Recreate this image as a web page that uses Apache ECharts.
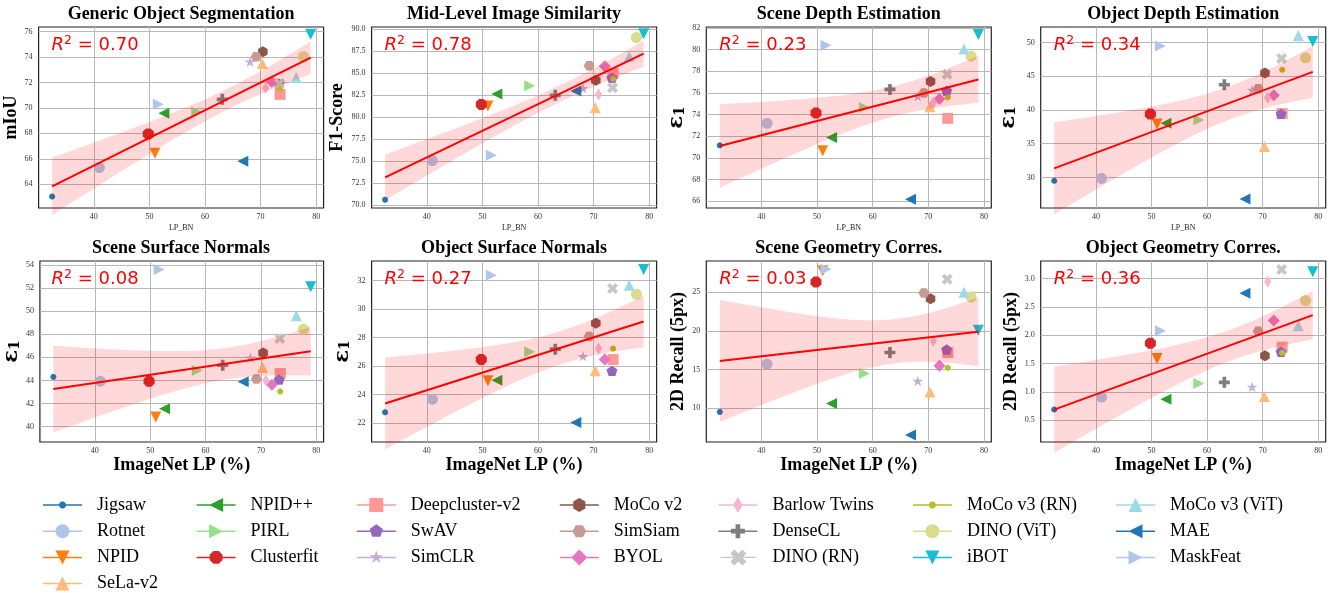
<!DOCTYPE html>
<html>
<head>
<meta charset="utf-8">
<script src="https://cdn.jsdelivr.net/npm/echarts@6/dist/echarts.min.js"></script>
<style>
  html, body { margin: 0; padding: 0; background: #fff; }
  #chart { width: 1338px; height: 593px; }
</style>
</head>
<body>
<div id="chart"></div>
<script>
// ---- data ----
var methods = ['Jigsaw', 'Rotnet', 'NPID', 'SeLa-v2', 'NPID++', 'PIRL', 'Clusterfit',
  'Deepcluster-v2', 'SwAV', 'SimCLR', 'MoCo v2', 'SimSiam', 'BYOL', 'Barlow Twins',
  'DenseCL', 'DINO (RN)', 'MoCo v3 (RN)', 'DINO (ViT)', 'iBOT', 'MoCo v3 (ViT)', 'MAE', 'MaskFeat'];
var imagenetLP = [32.5, 41.0, 51.0, 70.3, 52.6, 58.5, 49.8, 73.5, 73.3, 68.1, 70.4, 69.2, 72.0, 70.9,
  63.1, 73.4, 73.5, 77.7, 79.0, 76.4, 66.8, 51.6];

var segMIoU      = [63.03, 65.31, 66.44, 73.5, 69.58, 69.7, 67.96, 71.07, 71.9, 73.64, 74.43, 74.03, 72.07, 71.55, 70.68, 71.93, 71.49, 74.03, 75.8, 72.4, 65.8, 70.3];
var simF1        = [70.64, 75.09, 81.28, 81.1, 82.64, 83.58, 81.47, 84.98, 84.5, 83.3, 84.2, 85.85, 85.8, 82.6, 82.5, 83.36, 84.4, 89.06, 89.5, 86.9, 83.0, 75.7];
var sceneDepth   = [71.17, 73.2, 70.68, 74.73, 71.9, 74.67, 74.15, 73.66, 76.2, 75.7, 77.06, 76.0, 75.44, 75.1, 76.33, 77.74, 75.6, 79.4, 81.4, 80.07, 66.2, 80.4];
var objDepth     = [29.5, 29.85, 37.93, 34.58, 38.03, 38.5, 39.4, 39.46, 39.45, 42.96, 45.47, 43.15, 42.2, 41.8, 43.74, 47.64, 45.96, 47.73, 50.15, 51.03, 26.8, 49.5];
var sceneNormals = [44.31, 43.93, 40.84, 45.12, 41.56, 44.86, 43.93, 44.6, 44.08, 45.96, 46.39, 44.13, 43.64, 44.0, 45.32, 47.64, 43.04, 48.45, 52.12, 49.6, 43.88, 53.62];
var objNormals   = [22.77, 23.68, 24.97, 25.67, 25.01, 27.0, 26.46, 26.46, 25.67, 26.7, 29.0, 28.07, 26.46, 27.24, 27.19, 31.44, 27.23, 31.04, 32.77, 31.67, 22.05, 32.37];
var sceneCorr    = [9.52, 15.7, 27.8, 12.1, 10.6, 14.5, 26.34, 17.2, 17.6, 13.54, 24.18, 24.91, 15.5, 18.73, 17.22, 26.69, 15.23, 24.4, 20.1, 25.0, 6.54, 27.98];
var objCorr      = [0.69, 0.91, 1.59, 0.92, 0.87, 1.15, 1.86, 1.79, 1.71, 1.09, 1.64, 2.07, 2.26, 2.95, 1.17, 3.16, 1.69, 2.61, 3.12, 2.17, 2.74, 2.08];

var taskTitles = ['Generic Object Segmentation', 'Mid-Level Image Similarity', 'Scene Depth Estimation',
  'Object Depth Estimation', 'Scene Surface Normals', 'Object Surface Normals',
  'Scene Geometry Corres.', 'Object Geometry Corres.'];
var taskValues = [segMIoU, simF1, sceneDepth, objDepth, sceneNormals, objNormals, sceneCorr, objCorr];
var r2Labels = ['0.70', '0.78', '0.23', '0.34', '0.08', '0.27', '0.03', '0.36'];
var yNames = ['mIoU', 'F1-Score', 'eps', 'eps', 'eps', 'eps', '2D Recall (5px)', '2D Recall (5px)'];
var xTicks = [40, 50, 60, 70, 80];
var yTicks = [
  [64, 66, 68, 70, 72, 74, 76],
  [70, 72.5, 75, 77.5, 80, 82.5, 85, 87.5, 90],
  [66, 68, 70, 72, 74, 76, 78, 80, 82],
  [30, 35, 40, 45, 50],
  [40, 42, 44, 46, 48, 50, 52, 54],
  [22, 24, 26, 28, 30, 32],
  [10, 15, 20, 25],
  [0.5, 1.0, 1.5, 2.0, 2.5, 3.0]
];
var yDecimals = [0, 1, 0, 0, 0, 0, 0, 1];

// ---- styles / layout ----
var colors = ['#1f77b4', '#aec7e8', '#ff7f0e', '#ffbb78', '#2ca02c', '#98df8a', '#d62728', '#ff9896',
  '#9467bd', '#c5b0d5', '#8c564b', '#c49c94', '#e377c2', '#f7b6d2', '#7f7f7f', '#c7c7c7',
  '#bcbd22', '#dbdb8d', '#17becf', '#9edae5', '#1f77b4', '#aec7e8'];
var markers = ['.', 'o', 'v', '^', '<', '>', '8', 's', 'p', '*', 'h', 'H', 'D', 'd', 'P', 'X', '.', 'o', 'v', '^', '<', '>'];
var yRange = [[62.13, 76.37], [69.7, 90.26], [65.39, 82.09], [25.47, 52.3],
  [38.67, 54.35], [20.69, 33.36], [5.63, 29.06], [0.118, 3.31]];
var xRange = [30.07, 81.33];
var colLeft = [38.6, 371.6, 706.3, 1040.7];
var rowTop = [27, 261];
var gridW = 285, gridH = 181;
var yNameGap = [16, 25, 19, 22, 17, 19, 19, 20];
var serif = 'Liberation Serif';

function markerSize(m, legend) {
  if (m === '.') return legend ? 3.5 : 6;
  if (m === 'D' || m === 'd') return legend ? 8 : 12;
  return legend ? 7 : 11;
}

function unitShape(kind) {
  var p = [], k, a;
  function ring(n, start, rad) {
    for (var i = 0; i < n; i++) {
      a = (start + i * 360 / n) * Math.PI / 180;
      p.push([rad * Math.cos(a), rad * Math.sin(a)]);
    }
  }
  var t = 1 / 3;
  var plus = [[-t, -1], [t, -1], [t, -t], [1, -t], [1, t], [t, t], [t, 1], [-t, 1], [-t, t], [-1, t], [-1, -t], [-t, -t]];
  switch (kind) {
    case 'o': case '.': ring(32, 0, 1); break;
    case 'v': p = [[0, 1], [-1, -1], [1, -1]]; break;
    case '^': p = [[0, -1], [1, 1], [-1, 1]]; break;
    case '<': p = [[-1, 0], [1, -1], [1, 1]]; break;
    case '>': p = [[1, 0], [-1, 1], [-1, -1]]; break;
    case '8': ring(8, 22.5, 1); break;
    case 's': p = [[-1, -1], [1, -1], [1, 1], [-1, 1]]; break;
    case 'p': ring(5, -90, 1); break;
    case '*':
      for (k = 0; k < 10; k++) {
        a = (-90 + k * 36) * Math.PI / 180;
        var rr = k % 2 ? 0.382 : 1;
        p.push([rr * Math.cos(a), rr * Math.sin(a)]);
      }
      break;
    case 'h': ring(6, -90, 1); break;
    case 'H': ring(6, 0, 1); break;
    case 'D': p = [[0, -1], [1, 0], [0, 1], [-1, 0]]; break;
    case 'd': p = [[0, -1], [0.6, 0], [0, 1], [-0.6, 0]]; break;
    case 'P': p = plus; break;
    case 'X': p = plus.map(function (q) { return [(q[0] - q[1]) / 1.06, (q[0] + q[1]) / 1.06]; }); break;
  }
  var area = 0;
  for (k = 0; k < p.length; k++) {
    var n = p[(k + 1) % p.length];
    area += p[k][0] * n[1] - n[0] * p[k][1];
  }
  if (area < 0) p.reverse();
  return p;
}

function polyPath(pts, cx, cy, r) {
  return pts.map(function (q, i) {
    return (i ? 'L' : 'M') + (cx + q[0] * r).toFixed(2) + ' ' + (cy + q[1] * r).toFixed(2);
  }).join(' ') + ' Z';
}

var symbolPaths = markers.map(function (m) { return 'path://' + polyPath(unitShape(m), 10, 10, 10); });
// legend icon: line with the marker in its middle, blank room on the right before the text
var legendIcons = markers.map(function (m) {
  return 'path://M0 0 L0 0 M49 16 L49 16 M0 7.25 L39 7.25 L39 8.75 L0 8.75 Z ' +
    polyPath(unitShape(m), 19.5, 8, markerSize(m, true));
});

// least squares fit with 95% band
function fit(xs, ys) {
  var n = xs.length, mx = 0, my = 0, sxx = 0, sxy = 0, sse = 0, i;
  for (i = 0; i < n; i++) { mx += xs[i] / n; my += ys[i] / n; }
  for (i = 0; i < n; i++) { sxx += (xs[i] - mx) * (xs[i] - mx); sxy += (xs[i] - mx) * (ys[i] - my); }
  var b = sxy / sxx, a = my - b * mx;
  for (i = 0; i < n; i++) { var e = ys[i] - a - b * xs[i]; sse += e * e; }
  var s = Math.sqrt(sse / (n - 2)), tq = 2.086;
  var x0 = Math.min.apply(null, xs), x1 = Math.max.apply(null, xs);
  var band = [];
  for (i = 0; i <= 60; i++) {
    var x = x0 + (x1 - x0) * i / 60;
    var h = tq * s * Math.sqrt(1 / n + (x - mx) * (x - mx) / sxx);
    band.push([x, a + b * x - h, a + b * x + h]);
  }
  return { line: [[x0, a + b * x0], [x1, a + b * x1]], band: band };
}

var grids = [], xAxes = [], yAxes = [], series = [], titles = [];
var red = '#ff0000';

taskValues.forEach(function (vals, k) {
  var row = Math.floor(k / 4), col = k % 4;
  var left = colLeft[col], top = rowTop[row];
  grids.push({ left: left, top: top, width: gridW, height: gridH, show: true,
    borderColor: '#222', borderWidth: 1.2 });

  xAxes.push({
    type: 'value', gridIndex: k, min: xRange[0], max: xRange[1],
    axisLine: { show: false },
    axisTick: { show: false, customValues: xTicks },
    axisLabel: { customValues: xTicks, fontFamily: serif, fontSize: 8, color: '#333', margin: 5 },
    splitLine: { show: true, lineStyle: { color: '#b8b8b8', width: 1 } },
    name: row === 0 ? 'LP_BN' : 'ImageNet LP (%)',
    nameLocation: 'middle',
    nameGap: row === 0 ? 16 : 13,
    nameTextStyle: row === 0
      ? { fontFamily: serif, fontSize: 8, color: '#222' }
      : { fontFamily: serif, fontSize: 18, fontWeight: 'bold', color: '#000' }
  });

  var dec = yDecimals[k];
  var isEps = yNames[k] === 'eps';
  yAxes.push({
    type: 'value', gridIndex: k, min: yRange[k][0], max: yRange[k][1],
    axisLine: { show: false },
    axisTick: { show: false, customValues: yTicks[k] },
    axisLabel: { customValues: yTicks[k], fontFamily: serif, fontSize: 8, color: '#333', margin: 6,
      formatter: function (v) { return v.toFixed(dec); } },
    splitLine: { show: true, lineStyle: { color: '#b8b8b8', width: 1 } },
    name: isEps ? '{e|\u03b5}{s|1}' : yNames[k],
    nameLocation: 'middle',
    nameRotate: 90,
    nameGap: yNameGap[k],
    nameTextStyle: {
      fontFamily: serif, fontSize: 18, fontWeight: 'bold', color: '#000',
      rich: {
        e: { fontFamily: 'DejaVu Serif', fontSize: 21, fontWeight: 'bold', color: '#000' },
        s: { fontFamily: 'DejaVu Serif', fontSize: 14, fontWeight: 'bold', color: '#000', verticalAlign: 'bottom' }
      }
    }
  });

  titles.push({
    text: taskTitles[k], left: left + gridW / 2, top: top - 22, textAlign: 'center', padding: 0,
    textStyle: { fontFamily: serif, fontSize: 18, fontWeight: 'bold', color: '#000' }
  });
  titles.push({
    text: '{i|R}{s|2}{n| = ' + r2Labels[k] + '}', left: left + 13, top: top + 7, padding: 0,
    textStyle: {
      fontWeight: 'normal',
      rich: {
        i: { fontFamily: 'DejaVu Sans', fontStyle: 'italic', fontWeight: 'normal', fontSize: 18, color: red, lineHeight: 23 },
        s: { fontFamily: 'DejaVu Sans', fontWeight: 'normal', fontSize: 12.5, color: red, verticalAlign: 'top', lineHeight: 23 },
        n: { fontFamily: 'DejaVu Sans', fontWeight: 'normal', fontSize: 18, color: red, lineHeight: 23 }
      }
    }
  });

  methods.forEach(function (name, m) {
    series.push({
      type: 'scatter', name: name, xAxisIndex: k, yAxisIndex: k,
      data: [[imagenetLP[m], vals[m]]],
      symbol: symbolPaths[m], symbolSize: markerSize(markers[m], false), symbolKeepAspect: true,
      itemStyle: { color: colors[m], opacity: 1 },
      emphasis: { disabled: true }, z: 2
    });
  });

  var f = fit(imagenetLP, vals);
  series.push({
    type: 'custom', xAxisIndex: k, yAxisIndex: k, silent: true, z: 3,
    data: f.band, encode: { x: 0, y: [1, 2] },
    renderItem: function (params, api) {
      if (params.dataIndex !== 0) return;
      var up = f.band.map(function (d) { return api.coord([d[0], d[2]]); });
      var lo = f.band.map(function (d) { return api.coord([d[0], d[1]]); }).reverse();
      return { type: 'polygon', shape: { points: up.concat(lo) }, style: { fill: 'rgba(255,0,0,0.15)' } };
    }
  });
  series.push({
    type: 'line', xAxisIndex: k, yAxisIndex: k, silent: true, z: 4,
    data: f.line, showSymbol: false, lineStyle: { color: red, width: 2 }
  });
});

var legendCols = [[0, 1, 2, 3], [4, 5, 6], [7, 8, 9], [10, 11, 12], [13, 14, 15], [16, 17, 18], [19, 20, 21]];
var legendLeft = [43, 196.6, 356.8, 559.8, 718.4, 912.9, 1116];
var legends = legendCols.map(function (ids, c) {
  return {
    orient: 'vertical', left: legendLeft[c], top: 496, height: 130, padding: 0,
    itemWidth: 49, itemHeight: 16, itemGap: 8.2, selectedMode: false,
    textStyle: { fontFamily: serif, fontSize: 18, color: '#000' },
    data: ids.map(function (m) { return { name: methods[m], icon: legendIcons[m] }; })
  };
});

var chart = echarts.init(document.getElementById('chart'));
chart.setOption({
  backgroundColor: '#ffffff',
  animation: false,
  title: titles,
  legend: legends,
  grid: grids,
  xAxis: xAxes,
  yAxis: yAxes,
  series: series
});
</script>
</body>
</html>
